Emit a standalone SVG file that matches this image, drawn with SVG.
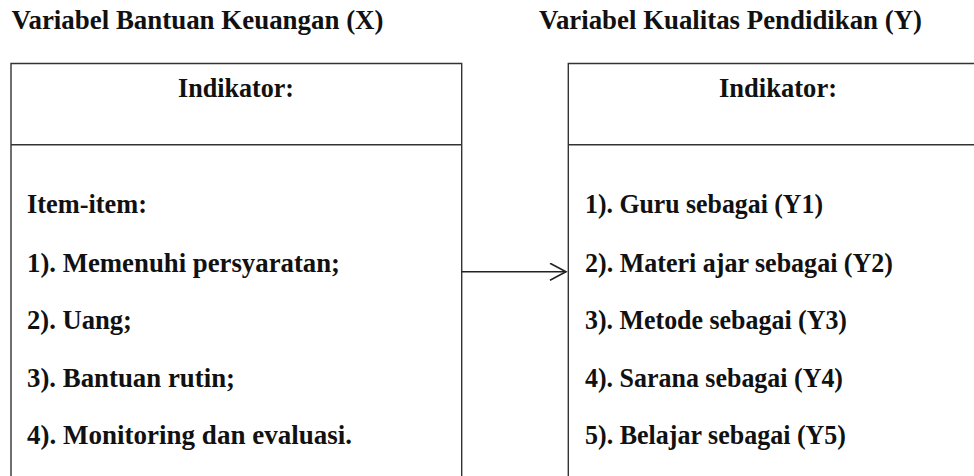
<svg xmlns="http://www.w3.org/2000/svg" width="974" height="476" viewBox="0 0 974 476">
<style>
.t{font-family:"Liberation Serif","Times New Roman",serif;font-weight:bold;font-size:27.5px;fill:#111}
.ln{stroke:#333;stroke-width:1.4;fill:none}
</style>
<defs>
<marker id="arr" markerWidth="20" markerHeight="20" refX="17" refY="9" orient="auto" markerUnits="userSpaceOnUse">
<path d="M1,0.5 L17,9 L1,17.5" fill="none" stroke="#222" stroke-width="1.6"/>
</marker>
</defs>
<rect width="974" height="476" fill="#fff"/>
<text class="t" x="11.5" y="29.3" textLength="372" lengthAdjust="spacingAndGlyphs">Variabel Bantuan Keuangan (X)</text>
<text class="t" x="539" y="29.3" textLength="383" lengthAdjust="spacingAndGlyphs">Variabel Kualitas Pendidikan (Y)</text>
<g id="nodeX">
<path class="ln" d="M11,476 V63.5 H461.7 V476"/>
<line class="ln" x1="11" y1="144.7" x2="461.7" y2="144.7"/>
<text class="t" x="236" y="96.7" text-anchor="middle" textLength="116" lengthAdjust="spacingAndGlyphs">Indikator:</text>
<text class="t" x="27" y="213.3" textLength="120" lengthAdjust="spacingAndGlyphs">Item-item:</text>
<text class="t" x="27" y="271.5" textLength="313" lengthAdjust="spacingAndGlyphs">1). Memenuhi persyaratan;</text>
<text class="t" x="27" y="329" textLength="105" lengthAdjust="spacingAndGlyphs">2). Uang;</text>
<text class="t" x="27" y="386.5" textLength="208" lengthAdjust="spacingAndGlyphs">3). Bantuan rutin;</text>
<text class="t" x="27" y="444" textLength="325" lengthAdjust="spacingAndGlyphs">4). Monitoring dan evaluasi.</text>
</g>
<g id="nodeY">
<path class="ln" d="M568.3,476 V63.5 H974"/>
<line class="ln" x1="568.3" y1="144.7" x2="974" y2="144.7"/>
<text class="t" x="778" y="96.7" text-anchor="middle" textLength="118" lengthAdjust="spacingAndGlyphs">Indikator:</text>
<text class="t" x="585" y="213.3" textLength="238" lengthAdjust="spacingAndGlyphs">1). Guru sebagai (Y1)</text>
<text class="t" x="585" y="271.5" textLength="308" lengthAdjust="spacingAndGlyphs">2). Materi ajar sebagai (Y2)</text>
<text class="t" x="585" y="329" textLength="262" lengthAdjust="spacingAndGlyphs">3). Metode sebagai (Y3)</text>
<text class="t" x="585" y="386.5" textLength="258" lengthAdjust="spacingAndGlyphs">4). Sarana sebagai (Y4)</text>
<text class="t" x="585" y="444" textLength="261" lengthAdjust="spacingAndGlyphs">5). Belajar sebagai (Y5)</text>
</g>
<g id="connectors">
<line x1="461.7" y1="271.7" x2="566" y2="271.7" stroke="#222" stroke-width="1.6" marker-end="url(#arr)"/>
</g>
</svg>
